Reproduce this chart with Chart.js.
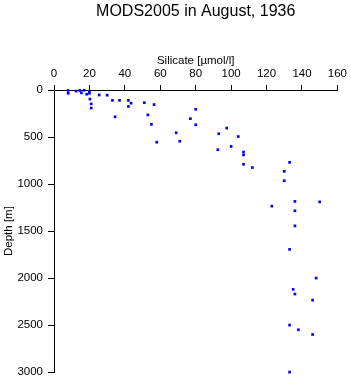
<!DOCTYPE html>
<html>
<head>
<meta charset="utf-8">
<script src="https://cdn.jsdelivr.net/npm/chart.js@4.4.1/dist/chart.umd.min.js"></script>
<style>
  html, body { margin: 0; padding: 0; background: #fff; }
  #wrap { width: 351px; height: 384px; }
</style>
</head>
<body>
<div id="wrap"><canvas id="chart" width="351" height="384"></canvas></div>
<script>
// values
const chartTitle = 'MODS2005 in August, 1936';
const silicate = [8, 8, 12.5, 14.5, 15.5, 17, 18.5, 20, 20, 20.3, 21, 21,
    25.5, 30, 33, 34.5, 37, 42, 43.5, 42, 51, 53, 56.5, 55, 58,
    69, 71, 77, 80, 80, 92.5, 93, 97.5, 100, 104, 107, 107, 107, 112,
    123, 130, 130, 133, 133, 133, 133, 135, 136, 136, 136, 136, 138,
    146, 146, 148, 150];
const depth = [5, 35, 12, 5, 30, 3, 45, 15, 35, 97, 148, 192,
    53, 55, 110, 285, 110, 110, 140, 175, 135, 265, 155, 365, 555,
    455, 545, 305, 205, 370, 635, 465, 405, 600, 495, 660, 690, 790, 825,
    1235, 865, 965, 770, 1695, 2500, 3000, 2120, 2170, 1185, 1285, 1445, 2550,
    2235, 2600, 2000, 1190];
const xTicks = [0, 20, 40, 60, 80, 100, 120, 140, 160];
const yTicks = [0, 500, 1000, 1500, 2000, 2500, 3000];

const points = silicate.map((v, i) => ({ x: v, y: depth[i] }));
const FONT = 'Liberation Sans, Arial, Helvetica, sans-serif';

// 🟢 title centred over the plot area
const plotTitle = {
    id: 'plotTitle',
    afterDraw(chart) {
        const ctx = chart.ctx;
        const area = chart.chartArea;
        ctx.save();
        ctx.font = '16px ' + FONT;
        ctx.fillStyle = '#000';
        ctx.textAlign = 'center';
        ctx.textBaseline = 'middle';
        ctx.fillText(chartTitle, (area.left + area.right) / 2, 12);
        ctx.restore();
    }
};

new Chart(document.getElementById('chart'), {
    type: 'scatter',
    data: {
        datasets: [{
            data: points,
            pointStyle: 'rect',
            radius: 1.9,
            hoverRadius: 1.9,
            borderWidth: 0,
            backgroundColor: '#0000ff',
            borderColor: '#0000ff',
            clip: false
        }]
    },
    options: {
        responsive: false,
        animation: false,
        events: [],
        layout: { padding: { top: 48, left: 0, right: 12, bottom: 9 } },
        plugins: { legend: { display: false }, tooltip: { enabled: false } },
        scales: {
            x: {
                type: 'linear',
                position: 'top',
                min: 0, max: 160,
                afterBuildTicks: s => { s.ticks = xTicks.map(v => ({ value: v })); },
                afterFit: s => { s.height = 42; },
                grid: { drawOnChartArea: false, drawTicks: true, tickLength: 5, color: '#000', lineWidth: 1 },
                border: { display: true, color: '#000', width: 1 },
                ticks: { color: '#000', font: { family: FONT, size: 11.5 }, padding: 4, maxRotation: 0,
                         callback: v => String(v) },
                title: { display: true, text: 'Silicate [µmol/l]', color: '#000',
                         font: { family: FONT, size: 11.5 }, padding: { top: 6, bottom: 0 } }
            },
            y: {
                type: 'linear',
                reverse: true,
                min: 0, max: 3000,
                afterBuildTicks: s => { s.ticks = yTicks.map(v => ({ value: v })); },
                afterFit: s => { s.width = 54; },
                grid: { drawOnChartArea: false, drawTicks: true, tickLength: 6, color: '#000', lineWidth: 1 },
                border: { display: true, color: '#000', width: 1 },
                ticks: { color: '#000', font: { family: FONT, size: 11.5 }, padding: 5,
                         callback: v => String(v) },
                title: { display: true, text: 'Depth [m]', color: '#000',
                         font: { family: FONT, size: 11.5 }, padding: { top: 2, bottom: 0 } }
            }
        }
    },
    plugins: [plotTitle]
});
</script>
</body>
</html>
